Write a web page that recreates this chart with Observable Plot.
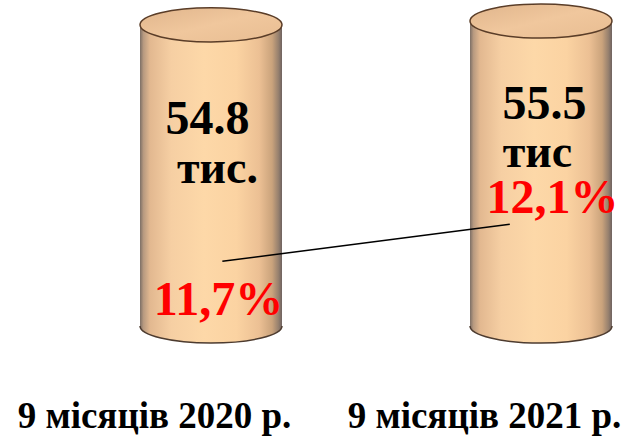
<!DOCTYPE html>
<html>
<head>
<meta charset="utf-8">
<script src="https://cdn.jsdelivr.net/npm/d3@7"></script>
<script src="https://cdn.jsdelivr.net/npm/@observablehq/plot@0.6"></script>
<style>
  html, body { margin: 0; padding: 0; background: #ffffff; }
  #chart { width: 635px; height: 441px; }
</style>
</head>
<body>
<div id="chart"></div>
<script>
// ---- data ----
const categories = ["9 місяців 2020 р.", "9 місяців 2021 р."];
const employedThousands = [54.8, 55.5];
const valueLabels = ["54.8", "55.5"];
const unitLabels = ["тис.", "тис"];
const sharePercent = [11.7, 12.1];
const shareLabels = ["11,7%", "12,1%"];

// ---- secondary (percent) axis, mapped onto the same vertical range ----
const shareDomain = [11, 14.3];
const yTop = d3.max(employedThousands);
const shareToY = p => (p - shareDomain[0]) / (shareDomain[1] - shareDomain[0]) * yTop;

const rows = categories.map((c, i) => ({
  category: c,
  value: employedThousands[i],
  valueLabel: valueLabels[i],
  unit: unitLabels[i],
  share: sharePercent[i],
  shareY: shareToY(sharePercent[i]),
  shareLabel: shareLabels[i]
}));

// ---- styling / label placement (style only) ----
const serif = "'Liberation Serif', 'Times New Roman', serif";
const big = {fontFamily: serif, fontWeight: "bold", fontSize: 48, lineAnchor: "bottom"};
const valueOffsets = [{dx: -4, dy: 109}, {dx: 3, dy: 97}];
const unitOffsets = [{dx: 6, dy: 158, fontSize: 46}, {dx: -4, dy: 145, fontSize: 46}];
const shareOffsets = [{dx: 7, dy: 53}, {dx: 11, dy: -12}];
const linkAnchors = [0.58, 0.28]; // fraction across each band where the trend line ends

function defsMark() {
  const defs = d3.create("svg:defs");
  const body = defs.append("linearGradient").attr("id", "cylBody")
    .attr("x1", "0").attr("x2", "1").attr("y1", "0").attr("y2", "0");
  [[0, "#7d6f66"], [0.025, "#b89a80"], [0.07, "#e2b890"], [0.22, "#f6cfa3"],
   [0.45, "#fdd8a8"], [0.68, "#fbd3a2"], [0.84, "#ecc094"], [0.93, "#caa37c"],
   [0.975, "#96806e"], [1, "#6f6360"]]
    .forEach(([o, c]) => body.append("stop").attr("offset", o).attr("stop-color", c));
  const top = defs.append("linearGradient").attr("id", "cylTop")
    .attr("x1", "0").attr("x2", "1").attr("y1", "0").attr("y2", "1");
  [[0, "#e0b58c"], [0.5, "#f0c79d"], [1, "#e8bd92"]]
    .forEach(([o, c]) => top.append("stop").attr("offset", o).attr("stop-color", c));
  return defs.node();
}

function cylinderRender(index, scales, values, dimensions, context, next) {
  const g = next(index, scales, values, dimensions, context);
  const rects = Array.from(g.querySelectorAll("rect"));
  const ns = "http://www.w3.org/2000/svg";
  for (const r of rects) {
    const x = +r.getAttribute("x"), y = +r.getAttribute("y");
    const w = +r.getAttribute("width"), h = +r.getAttribute("height");
    const rx = w / 2, ry = w * 0.12, cx = x + w / 2;
    const parent = r.parentNode;
    const bottom = document.createElementNS(ns, "ellipse");
    bottom.setAttribute("cx", cx); bottom.setAttribute("cy", y + h);
    bottom.setAttribute("rx", rx); bottom.setAttribute("ry", ry);
    bottom.setAttribute("fill", "url(#cylBody)");
    parent.insertBefore(bottom, r);
    const arc = document.createElementNS(ns, "path");
    arc.setAttribute("d", `M${x},${y + h}A${rx},${ry} 0 0 0 ${x + w},${y + h}`);
    arc.setAttribute("fill", "none");
    arc.setAttribute("stroke", "#4d3b2f");
    arc.setAttribute("stroke-width", 1.5);
    parent.appendChild(arc);
    const topE = document.createElementNS(ns, "ellipse");
    topE.setAttribute("cx", cx); topE.setAttribute("cy", y);
    topE.setAttribute("rx", rx); topE.setAttribute("ry", ry);
    topE.setAttribute("fill", "url(#cylTop)");
    topE.setAttribute("stroke", "#5a3d28");
    topE.setAttribute("stroke-width", 1.5);
    parent.appendChild(topE);
  }
  return g;
}

// trend line between the two share values, positioned with the chart's x and y scales
function trendMark(index, scales) {
  const bwRaw = scales.x.bandwidth;
  const bw = typeof bwRaw === "function" ? bwRaw() : (bwRaw || 0);
  const pts = rows.map((r, i) => [scales.x(r.category) + linkAnchors[i] * bw, scales.y(r.shareY)]);
  return d3.create("svg:path")
    .attr("d", d3.line()(pts))
    .attr("fill", "none")
    .attr("stroke", "#000")
    .attr("stroke-width", 1.5)
    .node();
}

const marks = [
  defsMark,
  Plot.barY(rows, {x: "category", y: "value", fill: "url(#cylBody)", render: cylinderRender}),
  trendMark,
  ...rows.flatMap((r, i) => [
    Plot.text([r], {x: "category", y: "value", text: "valueLabel", fill: "#000", ...big, ...valueOffsets[i]}),
    Plot.text([r], {x: "category", y: "value", text: "unit", fill: "#000", ...big, ...unitOffsets[i]}),
    Plot.text([r], {x: "category", y: "shareY", text: "shareLabel", fill: "#ff0000", ...big, ...shareOffsets[i]})
  ]),
  Plot.text(rows, {x: "category", y: () => 0, text: "category", fill: "#000",
    fontFamily: serif, fontWeight: "bold", fontSize: 37, lineAnchor: "bottom", dx: -57, dy: 101})
];

const chart = Plot.plot({
  width: 635,
  height: 441,
  marginTop: 21,
  marginBottom: 115,
  marginLeft: 140,
  marginRight: 23,
  x: {domain: categories, paddingInner: 0.57, paddingOuter: 0, axis: null},
  y: {domain: [0, yTop], axis: null},
  style: {background: "#ffffff", fontFamily: serif, overflow: "visible"},
  marks
});
document.getElementById("chart").appendChild(chart);
</script>
</body>
</html>
